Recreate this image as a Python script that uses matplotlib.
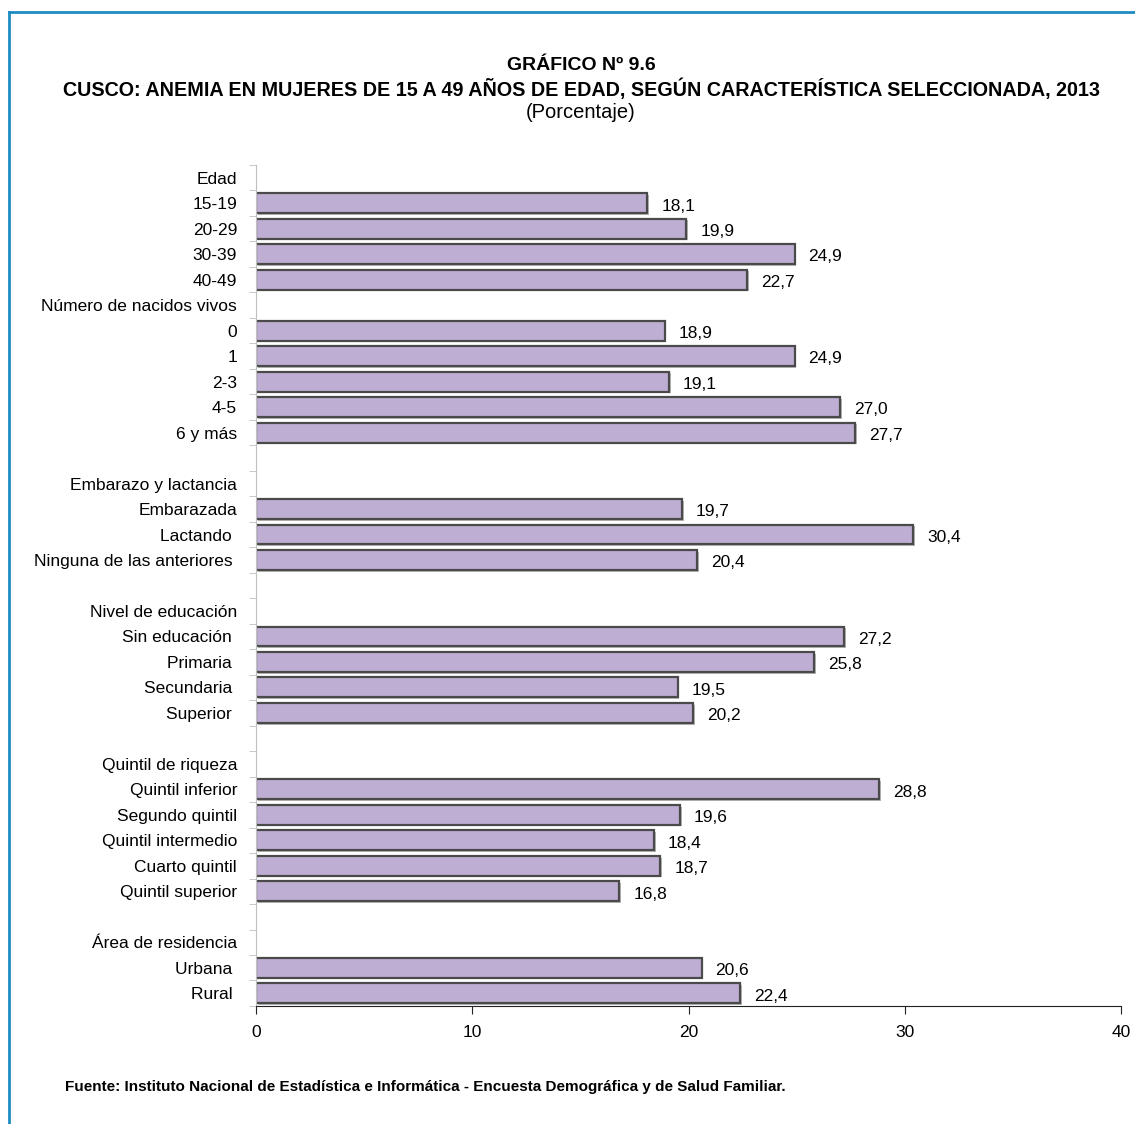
import matplotlib.pyplot as plt
import matplotlib.patheffects as pe
from matplotlib.lines import Line2D
import numpy as np

plt.rcParams['font.family'] = ['Liberation Sans Narrow', 'Liberation Sans', 'DejaVu Sans']

# rows from top to bottom; None = header or blank row
labels = ["Edad", "15-19", "20-29", "30-39", "40-49",
          "Número de nacidos vivos", "0", "1", "2-3", "4-5", "6 y más", "",
          "Embarazo y lactancia", "Embarazada", "Lactando ", "Ninguna de las anteriores ", "",
          "Nivel de educación", "Sin educación ", "Primaria ", "Secundaria ", "Superior ", "",
          "Quintil de riqueza", "Quintil inferior", "Segundo quintil", "Quintil intermedio",
          "Cuarto quintil", "Quintil superior", "",
          "Área de residencia", "Urbana ", "Rural "]
values = [None, 18.1, 19.9, 24.9, 22.7,
          None, 18.9, 24.9, 19.1, 27.0, 27.7, None,
          None, 19.7, 30.4, 20.4, None,
          None, 27.2, 25.8, 19.5, 20.2, None,
          None, 28.8, 19.6, 18.4, 18.7, 16.8, None,
          None, 20.6, 22.4]
xticks = [0, 10, 20, 30, 40]

fig = plt.figure(figsize=(11.35, 11.24), dpi=100)
ax = fig.add_axes([0.2256, 0.105, 0.7621, 0.7482])

n = len(labels)
ypos = np.arange(n)
for y, v in zip(ypos, values):
    if v is None:
        continue
    ax.barh(y, v, height=0.78, color='#BFAED4', edgecolor='#4a4a4a', linewidth=1.6,
            path_effects=[pe.SimplePatchShadow(offset=(1.2, -1.2), shadow_rgbFace='#888888', alpha=0.6),
                          pe.Normal()])
    ax.annotate(f"{v:.1f}".replace('.', ','), xy=(v, y), xytext=(10, -2),
                textcoords='offset points', va='center', ha='left', fontsize=12.5)

ax.set_xlim(0, 40)
ax.set_ylim(n - 0.5, -0.5)
ax.set_xticks(xticks)
ax.set_xticklabels([str(t) for t in xticks], fontsize=12.5)
ax.set_yticks(ypos)
ax.set_yticklabels(labels, fontsize=12.5)
ax.set_yticks(np.arange(-0.5, n, 1), minor=True)
ax.tick_params(axis='y', which='major', length=0, pad=13.7)
ax.tick_params(axis='y', which='minor', length=5, color='#BFBFBF', direction='out')
ax.tick_params(axis='x', length=6, color='#222222', pad=8)

for s in ['top', 'right']:
    ax.spines[s].set_visible(False)
ax.spines['left'].set_color('#BFBFBF')
ax.spines['bottom'].set_color('#222222')

fig.text(0.512, 0.942, "GRÁFICO Nº 9.6", ha='center', va='center', fontsize=14, fontweight='bold')
fig.text(0.512, 0.921, "CUSCO: ANEMIA EN MUJERES DE 15 A 49 AÑOS DE EDAD, SEGÚN CARACTERÍSTICA SELECCIONADA, 2013",
         ha='center', va='center', fontsize=14.2, fontweight='bold')
fig.text(0.512, 0.900, "(Porcentaje)", ha='center', va='center', fontsize=14.5)

fig.text(0.057, 0.033, "Fuente: Instituto Nacional de Estadística e Informática - Encuesta Demográfica y de Salud Familiar.",
         ha='left', va='center', fontsize=11, fontweight='bold')

# blue frame
fig.add_artist(Line2D([0.0075, 1.0], [0.989, 0.989], color='#1E8BC3', linewidth=2, transform=fig.transFigure))
fig.add_artist(Line2D([0.0075, 0.0075], [0.0, 0.989], color='#1E8BC3', linewidth=2, transform=fig.transFigure))

plt.savefig("out.png", dpi=100)
plt.close()
